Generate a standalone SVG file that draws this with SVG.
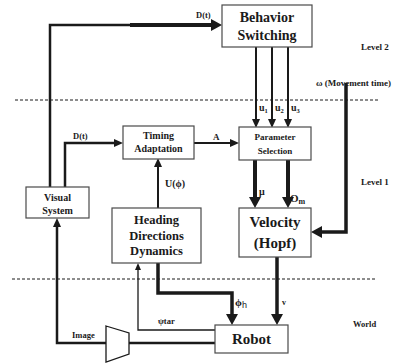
<svg xmlns="http://www.w3.org/2000/svg" width="399" height="364" viewBox="0 0 399 364">
<style>
.box{fill:#fff;stroke:#4a4a4a;stroke-width:1.2}
.t{font-family:"Liberation Serif",serif;font-weight:bold;fill:#1a1a1a;text-anchor:middle}
.l{font-family:"Liberation Serif",serif;font-weight:bold;fill:#1a1a1a}
.c{fill:none;stroke:#1a1a1a;stroke-linejoin:miter}
.dash{stroke:#1a1a1a;stroke-width:1;stroke-dasharray:3,2}
</style>
<defs>
<marker id="big" markerUnits="userSpaceOnUse" markerWidth="12" markerHeight="12" refX="0" refY="6" orient="auto" viewBox="0 0 12 12"><path d="M0,0 L11,6 L0,12 z" fill="#1a1a1a"/></marker>
<marker id="med" markerUnits="userSpaceOnUse" markerWidth="9" markerHeight="8" refX="0" refY="4" orient="auto" viewBox="0 0 9 8"><path d="M0,0 L9,4 L0,8 z" fill="#1a1a1a"/></marker>
<marker id="sm" markerUnits="userSpaceOnUse" markerWidth="7" markerHeight="6" refX="0" refY="3" orient="auto" viewBox="0 0 7 6"><path d="M0,0 L7,3 L0,6 z" fill="#1a1a1a"/></marker>
</defs>

<line class="dash" x1="15" y1="100" x2="380" y2="100"/>
<line class="dash" x1="12" y1="279" x2="375" y2="279"/>

<text class="l" x="361" y="50" font-size="9">Level 2</text>
<text class="l" x="361" y="185" font-size="9">Level 1</text>
<text class="l" x="353" y="327" font-size="8.5">World</text>
<text class="l" x="316" y="86" font-size="9">ω  (Movement time)</text>

<g id="connectors">
<path class="c" stroke-width="2.5" d="M50,187 V25 H131"/>
<path class="c" stroke-width="4" d="M130,25 H211" marker-end="url(#big)"/>
<path class="c" stroke-width="2.5" d="M65,187 V143 H114" marker-end="url(#med)"/>
<path class="c" stroke-width="2" d="M194,143 H230" marker-end="url(#med)"/>
<path class="c" stroke-width="2" d="M256,47 V119" marker-end="url(#med)"/>
<path class="c" stroke-width="2" d="M272,47 V119" marker-end="url(#med)"/>
<path class="c" stroke-width="2" d="M288,47 V119" marker-end="url(#med)"/>
<path class="c" stroke-width="4" d="M255,160 V197" marker-end="url(#big)"/>
<path class="c" stroke-width="4" d="M288,160 V197" marker-end="url(#big)"/>
<path class="c" stroke-width="3.5" d="M346,83 V232 H322" marker-end="url(#big)"/>
<path class="c" stroke-width="2" d="M158,208 V167" marker-end="url(#med)"/>
<path class="c" stroke-width="3.5" d="M277,257 V314" marker-end="url(#big)"/>
<path class="c" stroke-width="3.5" d="M158,263 V293 H232 V314" marker-end="url(#big)"/>
<path class="c" stroke-width="1.3" d="M215,330 H138 V270" marker-end="url(#sm)"/>
<path class="c" stroke-width="2.5" d="M215,343 H128"/>
<path class="c" stroke-width="2.5" d="M106,343 H57 V227" marker-end="url(#med)"/>
<polygon points="106,326 129,333 129,354 106,362" fill="#fff" stroke="#1a1a1a" stroke-width="1.3"/>

<text class="l" x="196" y="18" font-size="8.5">D(t)</text>
<text class="l" x="73" y="139" font-size="8.5">D(t)</text>
<text class="l" x="213" y="140" font-size="9">A</text>
<text class="l" x="259" y="111" font-size="10">u<tspan font-size="6.5" dy="2">1</tspan></text>
<text class="l" x="275" y="111" font-size="10">u<tspan font-size="6.5" dy="2">2</tspan></text>
<text class="l" x="291" y="111" font-size="10">u<tspan font-size="6.5" dy="2">3</tspan></text>
<text class="l" x="259" y="195" font-size="10">μ</text>
<text class="l" x="290" y="202" font-size="11">O<tspan font-size="8" dy="2">m</tspan></text>
<text class="l" x="165" y="187" font-size="10">U(ϕ)</text>
<text class="l" x="282" y="305" font-size="8">v</text>
<text class="l" x="235" y="306" font-size="11">ϕ<tspan font-weight="normal" font-family="Liberation Sans,sans-serif" font-size="9" dy="2">h</tspan></text>
<text class="l" x="158" y="324" font-size="8.5">ψtar</text>
<text class="l" x="72" y="338" font-size="8.5">Image</text>
</g>

<g id="behavior">
<rect class="box" x="222" y="5" width="90" height="42"/>
<text class="t" x="267" y="22" font-size="14">Behavior</text>
<text class="t" x="267" y="40" font-size="14">Switching</text>
</g>
<g id="timing">
<rect class="box" x="123" y="126" width="71" height="33"/>
<text class="t" x="158.5" y="139" font-size="10">Timing</text>
<text class="t" x="158.5" y="152" font-size="10">Adaptation</text>
</g>
<g id="param">
<rect class="box" x="239" y="127" width="72" height="33"/>
<text class="t" x="275" y="140" font-size="9">Parameter</text>
<text class="t" x="275" y="154" font-size="9">Selection</text>
</g>
<g id="visual">
<rect class="box" x="26" y="187" width="63" height="31"/>
<text class="t" x="57.5" y="201" font-size="10">Visual</text>
<text class="t" x="57.5" y="214" font-size="10">System</text>
</g>
<g id="heading">
<rect class="box" x="112" y="208" width="89" height="55"/>
<text class="t" x="156.5" y="224" font-size="12.5">Heading</text>
<text class="t" x="156.5" y="240" font-size="12.5">Directions</text>
<text class="t" x="156.5" y="255" font-size="12.5">Dynamics</text>
</g>
<g id="velocity">
<rect class="box" x="239" y="208" width="72" height="49"/>
<text class="t" x="275" y="227" font-size="15">Velocity</text>
<text class="t" x="275" y="248" font-size="15">(Hopf)</text>
</g>
<g id="robot">
<rect class="box" x="215" y="325" width="73" height="28"/>
<text class="t" x="251.5" y="344" font-size="15">Robot</text>
</g>
</svg>
